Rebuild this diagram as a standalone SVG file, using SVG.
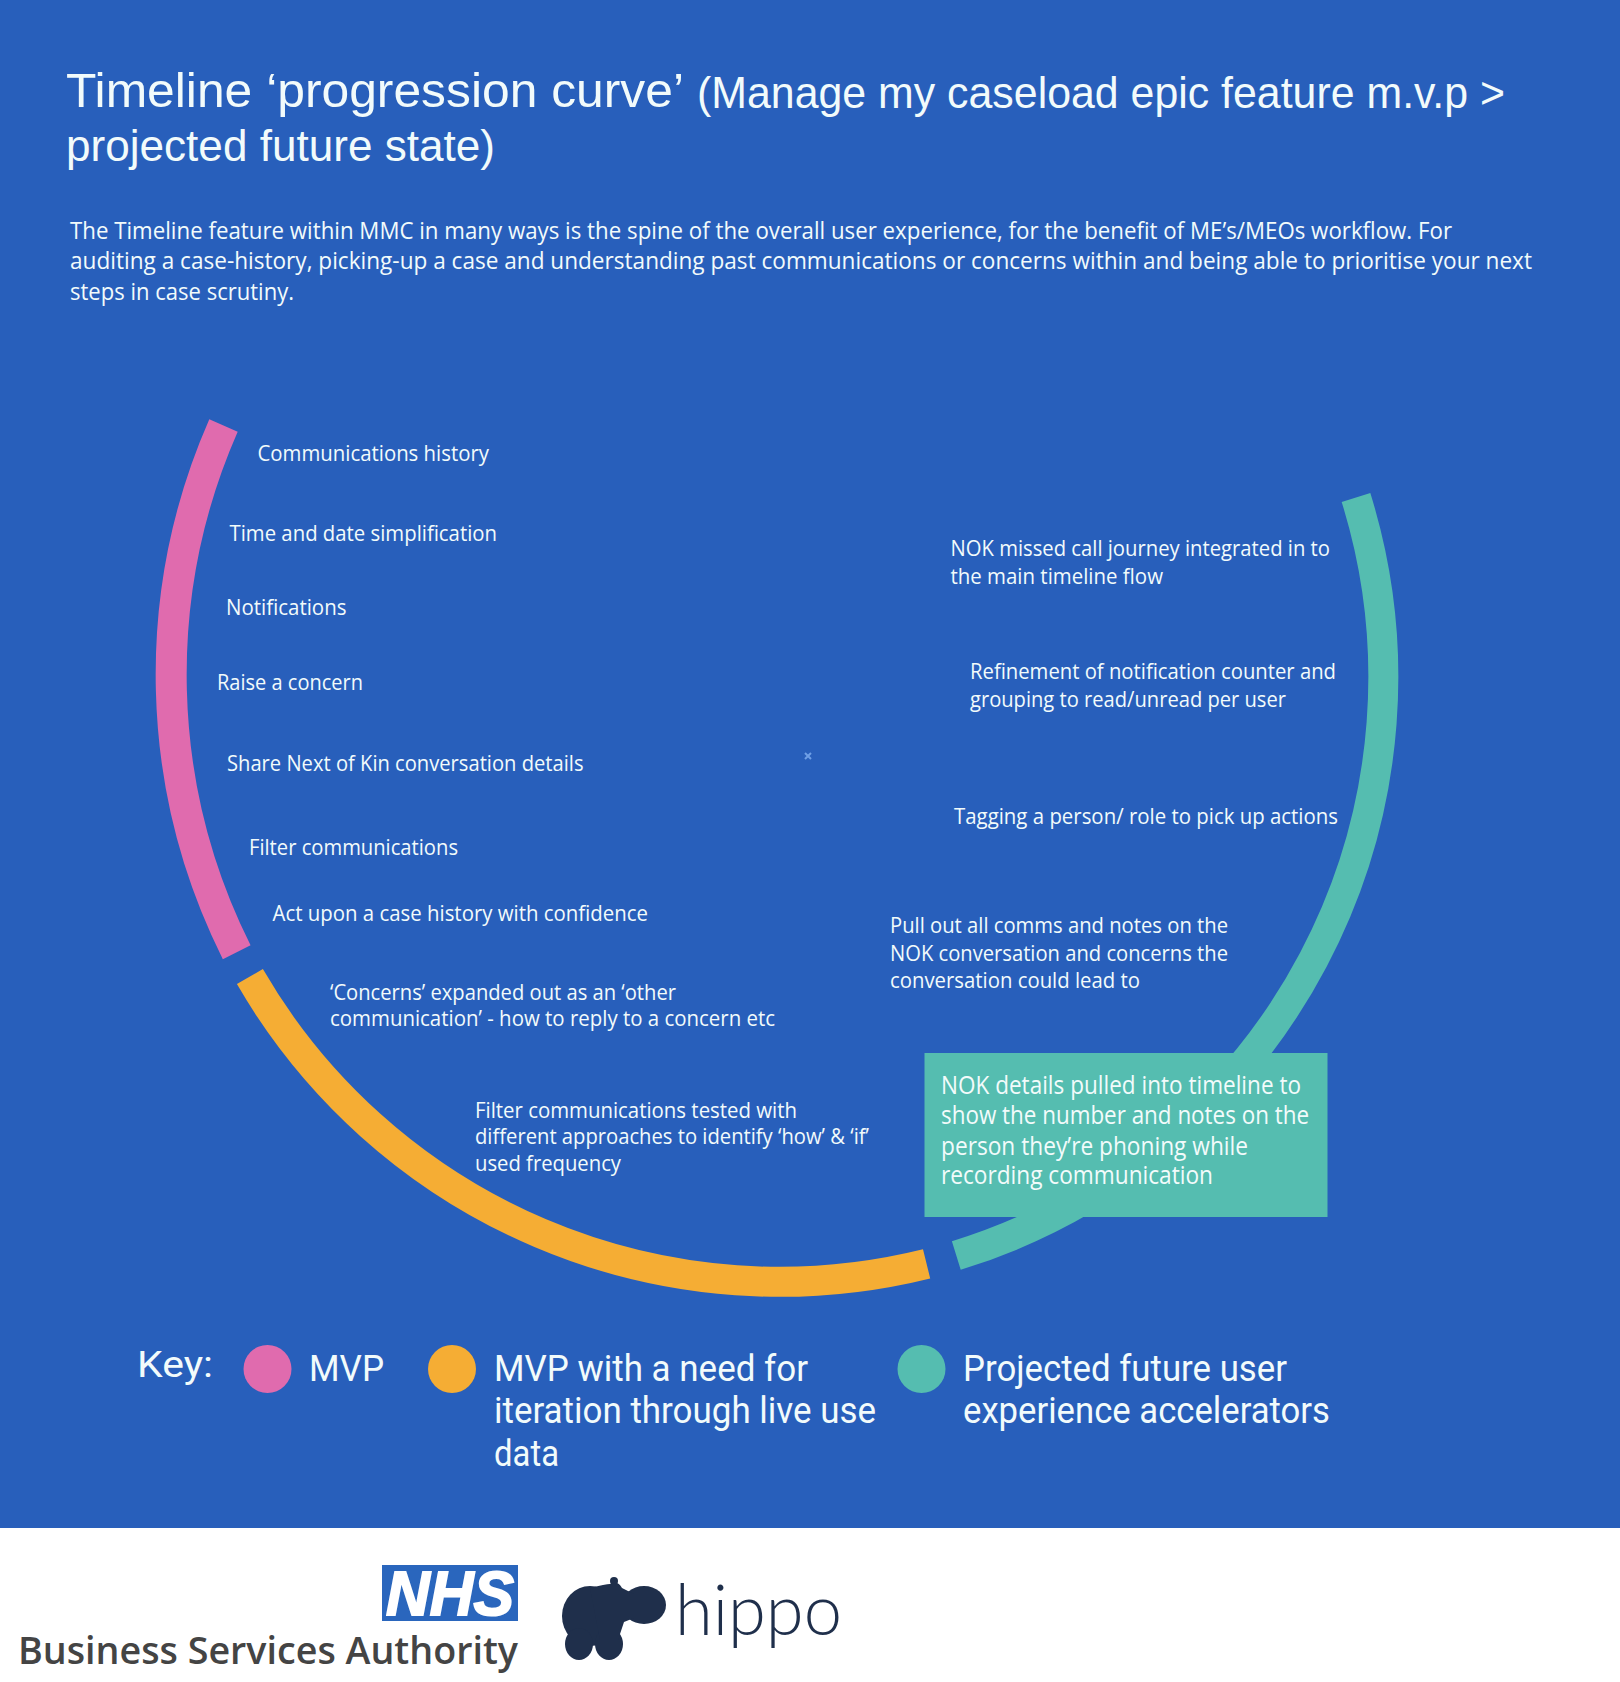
<svg xmlns="http://www.w3.org/2000/svg" width="1620" height="1682" viewBox="0 0 1620 1682">
<style>
text{fill:#f2fbfb;font-family:"Open Sans","Liberation Sans",sans-serif}
.t{font-family:"Liberation Sans",Arial,sans-serif}
.h1{font-size:48px}.h2{font-size:44px}
.k{font-family:"Roboto","Liberation Sans",sans-serif;font-size:36px}
.i{font-size:24px}.l{font-size:22px}.b{font-size:25px}
.arc{fill:none;stroke-width:31}
.hb{fill:#1f2f4b}
</style>
<rect width="1620" height="1682" fill="#285fbb"/>
<rect y="1528" width="1620" height="154" fill="#fff"/>
<path d="M805 753l6 6M811 753l-6 6" stroke="#6f9fe6" stroke-width="2" fill="none"/>
<g id="title">
<text class="t h1" x="66" y="107" textLength="618" lengthAdjust="spacingAndGlyphs">Timeline ‘progression curve’</text>
<text class="t h2" x="697" y="108" textLength="808" lengthAdjust="spacingAndGlyphs">(Manage my caseload epic feature m.v.p &gt;</text>
<text class="t h2" x="66" y="161" textLength="429" lengthAdjust="spacingAndGlyphs">projected future state)</text>
</g>
<g id="intro">
<text class="i" x="70" y="239" textLength="1382" lengthAdjust="spacingAndGlyphs">The Timeline feature within MMC in many ways is the spine of the overall user experience, for the benefit of ME’s/MEOs workflow. For</text>
<text class="i" x="70" y="269" textLength="1462" lengthAdjust="spacingAndGlyphs">auditing a case-history, picking-up a case and understanding past communications or concerns within and being able to prioritise your next</text>
<text class="i" x="70" y="300" textLength="224" lengthAdjust="spacingAndGlyphs">steps in case scrutiny.</text>
</g>
<g id="connectors">
<path id="arc-mvp" class="arc" stroke="#e06bae" d="M223.5 425.5A620 620 0 0 0 236.7 952.2"/>
<path id="arc-iterate" class="arc" style="stroke-width:30" stroke="#f5ad34" d="M249.9 976.6A612 612 0 0 0 926.6 1263.9"/>
<path id="arc-future" class="arc" style="stroke-width:30" stroke="#55bdb0" d="M956.3 1255.5A605 605 0 0 0 1356 497.5"/>
</g>
<g id="labels-mvp">
<text class="l" x="257.5" y="461" textLength="231.5" lengthAdjust="spacingAndGlyphs">Communications history</text>
<text class="l" x="229.5" y="541" textLength="267.5" lengthAdjust="spacingAndGlyphs">Time and date simplification</text>
<text class="l" x="226" y="615" textLength="120.5" lengthAdjust="spacingAndGlyphs">Notifications</text>
<text class="l" x="217" y="690" textLength="146" lengthAdjust="spacingAndGlyphs">Raise a concern</text>
<text class="l" x="227" y="771" textLength="356.5" lengthAdjust="spacingAndGlyphs">Share Next of Kin conversation details</text>
<text class="l" x="249" y="855" textLength="209" lengthAdjust="spacingAndGlyphs">Filter communications</text>
<text class="l" x="272.5" y="921" textLength="375.5" lengthAdjust="spacingAndGlyphs">Act upon a case history with confidence</text>
</g>
<g id="labels-iterate">
<text class="l" x="330" y="1000" textLength="346" lengthAdjust="spacingAndGlyphs">‘Concerns’ expanded out as an ‘other</text>
<text class="l" x="330" y="1026" textLength="445" lengthAdjust="spacingAndGlyphs">communication’ - how to reply to a concern etc</text>
<text class="l" x="475" y="1118" textLength="322" lengthAdjust="spacingAndGlyphs">Filter communications tested with</text>
<text class="l" x="475" y="1144" textLength="394" lengthAdjust="spacingAndGlyphs">different approaches to identify ‘how’ &amp; ‘if’</text>
<text class="l" x="475" y="1171" textLength="146" lengthAdjust="spacingAndGlyphs">used frequency</text>
</g>
<g id="labels-future">
<text class="l" x="950.5" y="556" textLength="379.5" lengthAdjust="spacingAndGlyphs">NOK missed call journey integrated in to</text>
<text class="l" x="950.5" y="584" textLength="212.5" lengthAdjust="spacingAndGlyphs">the main timeline flow</text>
<text class="l" x="970" y="679" textLength="366" lengthAdjust="spacingAndGlyphs">Refinement of notification counter and</text>
<text class="l" x="970" y="707" textLength="316" lengthAdjust="spacingAndGlyphs">grouping to read/unread per user</text>
<text class="l" x="954" y="824" textLength="384" lengthAdjust="spacingAndGlyphs">Tagging a person/ role to pick up actions</text>
<text class="l" x="890" y="933" textLength="338" lengthAdjust="spacingAndGlyphs">Pull out all comms and notes on the</text>
<text class="l" x="890" y="961" textLength="338" lengthAdjust="spacingAndGlyphs">NOK conversation and concerns the</text>
<text class="l" x="890" y="988" textLength="250" lengthAdjust="spacingAndGlyphs">conversation could lead to</text>
</g>
<g id="callout">
<rect x="924.5" y="1053" width="403" height="164" fill="#55bdb0"/>
<text class="b" x="941" y="1094" textLength="360" lengthAdjust="spacingAndGlyphs">NOK details pulled into timeline to</text>
<text class="b" x="941" y="1124" textLength="368" lengthAdjust="spacingAndGlyphs">show the number and notes on the</text>
<text class="b" x="941" y="1155" textLength="307" lengthAdjust="spacingAndGlyphs">person they’re phoning while</text>
<text class="b" x="941" y="1184" textLength="272" lengthAdjust="spacingAndGlyphs">recording communication</text>
</g>
<g id="key">
<text class="k" x="137" y="1377" textLength="76" lengthAdjust="spacingAndGlyphs">Key:</text>
<circle cx="267.5" cy="1369" r="24" fill="#e06bae"/>
<text class="k" x="309" y="1381" textLength="75" lengthAdjust="spacingAndGlyphs">MVP</text>
<circle cx="452" cy="1369" r="24" fill="#f5ad34"/>
<text class="k" x="494" y="1381" textLength="314" lengthAdjust="spacingAndGlyphs">MVP with a need for</text>
<text class="k" x="494" y="1423" textLength="382" lengthAdjust="spacingAndGlyphs">iteration through live use</text>
<text class="k" x="494" y="1466" textLength="65" lengthAdjust="spacingAndGlyphs">data</text>
<circle cx="921.5" cy="1369" r="24" fill="#55bdb0"/>
<text class="k" x="963" y="1381" textLength="324" lengthAdjust="spacingAndGlyphs">Projected future user</text>
<text class="k" x="963" y="1423" textLength="367" lengthAdjust="spacingAndGlyphs">experience accelerators</text>
</g>
<g id="logo-nhs">
<rect x="382" y="1565" width="136" height="56" fill="#2a66bd"/>
<text x="386" y="1615" textLength="128" lengthAdjust="spacingAndGlyphs" style="fill:#fff;stroke:#fff;stroke-width:2;font-family:'Liberation Sans',sans-serif;font-weight:700;font-style:italic;font-size:63px">NHS</text>
<text x="18" y="1664" textLength="500" lengthAdjust="spacingAndGlyphs" style="fill:#444;font-family:'Open Sans',sans-serif;font-weight:600;font-size:37px">Business Services Authority</text>
</g>
<g id="logo-hippo">
<ellipse class="hb" cx="590" cy="1616" rx="28" ry="30"/>
<ellipse class="hb" cx="579" cy="1644" rx="14" ry="16"/>
<ellipse class="hb" cx="609" cy="1644" rx="14" ry="16"/>
<ellipse class="hb" cx="644" cy="1605" rx="22" ry="19"/>
<path class="hb" d="M590 1588Q606 1584 610 1584Q618 1580 622 1588L634 1594L634 1618L624 1622L618 1640L600 1640Z"/>
<circle class="hb" cx="614" cy="1581" r="4"/>
<text x="675" y="1635" textLength="167" lengthAdjust="spacingAndGlyphs" style="fill:#1f2f4b;font-family:Lato,sans-serif;font-weight:300;font-size:70px">hippo</text>
</g>
</svg>
